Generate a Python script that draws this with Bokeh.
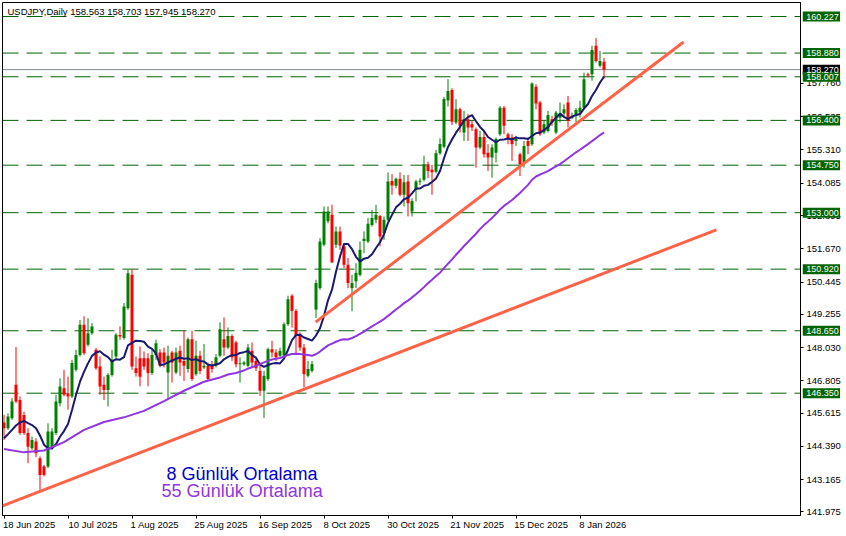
import numpy as np
import pandas as pd
from bokeh.plotting import figure
from bokeh.models import (Range1d, FixedTicker, Label, Span, ColumnDataSource,
                          NumeralTickFormatter, LinearAxis)
from bokeh.embed import file_html
from bokeh.resources import INLINE
from bokeh.core.properties import value

# ---------------- data ----------------
date_labels = ["18 Jun 2025", "10 Jul 2025", "1 Aug 2025", "25 Aug 2025", "16 Sep 2025",
               "8 Oct 2025", "30 Oct 2025", "21 Nov 2025", "15 Dec 2025", "8 Jan 2026"]
date_bars = [0, 16, 32, 48, 64, 80, 96, 112, 128, 144]

opens = [
    145.27, 145.06, 145.43, 146.66, 146.10, 145.55, 144.88, 144.32, 144.57, 143.95,
    143.65, 143.65, 144.32, 144.88, 145.98, 146.53, 146.35, 146.23, 147.21, 147.76,
    148.87, 148.13, 148.56, 147.95, 147.33, 146.66, 146.47, 147.02, 147.70, 148.49,
    148.38, 149.48, 150.71, 147.27, 147.64, 147.64, 147.64, 147.09, 147.76, 147.85,
    147.85, 147.11, 147.85, 147.11, 147.91, 147.54, 147.24, 148.34, 147.05, 147.73,
    147.30, 147.36, 147.36, 147.36, 147.73, 148.34, 148.03, 148.46, 148.22, 147.42,
    147.42, 147.36, 147.91, 147.54, 147.17, 146.44, 146.87, 147.97, 147.85, 147.73,
    147.73, 148.89, 149.94, 149.38, 148.52, 148.03, 146.99, 147.17, 149.43, 150.22,
    151.82, 152.68, 152.92, 151.82, 152.31, 151.76, 151.08, 150.22, 150.47, 150.71,
    151.96, 151.94, 152.55, 152.74, 152.88, 152.25, 152.74, 154.17, 153.99, 154.25,
    153.66, 154.15, 153.04, 153.84, 154.15, 154.21, 154.78, 154.58, 154.51, 155.19,
    155.43, 157.13, 157.52, 156.32, 156.81, 155.95, 156.44, 156.26, 156.07, 155.40,
    155.79, 155.21, 155.03, 155.21, 155.89, 156.87, 155.89, 155.77, 155.64, 155.15,
    154.85, 155.64, 155.52, 157.64, 157.06, 155.95, 156.01, 156.44, 155.95, 156.50,
    156.65, 157.06, 156.50, 156.57, 156.69, 156.87, 158.10, 158.10, 159.15, 158.41,
    158.563]

highs = [
    145.55, 145.61, 146.17, 148.05, 146.23, 145.67, 145.06, 144.75, 144.69, 144.02,
    143.71, 145.24, 145.06, 146.29, 146.90, 147.21, 146.96, 147.58, 147.95, 149.05,
    149.18, 149.11, 148.93, 148.01, 147.70, 146.96, 147.09, 147.95, 148.56, 148.81,
    149.67, 150.90, 150.92, 147.70, 148.07, 147.89, 147.82, 147.95, 148.32, 147.97,
    148.03, 148.10, 147.91, 148.03, 148.10, 148.65, 148.40, 148.65, 148.28, 147.91,
    148.16, 147.48, 147.54, 147.79, 148.96, 149.14, 148.77, 148.52, 148.28, 147.67,
    147.54, 148.16, 148.22, 147.60, 147.36, 147.17, 148.03, 148.28, 147.97, 148.03,
    148.96, 149.94, 150.00, 149.45, 148.59, 148.16, 147.54, 147.54, 150.53, 152.06,
    153.23, 153.23, 153.29, 152.49, 152.49, 151.88, 151.33, 150.71, 151.14, 151.94,
    152.31, 152.80, 153.10, 153.29, 152.92, 152.86, 154.48, 154.42, 154.29, 154.49,
    154.39, 154.39, 153.53, 154.21, 154.27, 155.10, 154.88, 154.76, 155.31, 155.74,
    157.27, 157.92, 157.58, 157.18, 156.87, 156.75, 156.63, 156.38, 156.14, 156.01,
    156.01, 155.52, 155.52, 155.77, 156.93, 156.93, 155.95, 155.89, 155.83, 155.21,
    155.64, 155.77, 157.80, 157.73, 157.12, 156.38, 156.75, 156.57, 156.75, 157.06,
    156.99, 157.30, 156.69, 156.85, 157.12, 158.16, 158.16, 159.15, 159.43, 158.96,
    158.703]

lows = [
    144.63, 145.00, 145.37, 145.98, 144.81, 144.81, 143.77, 144.26, 143.99, 142.79,
    143.28, 143.59, 144.26, 144.81, 145.86, 146.23, 145.74, 146.17, 147.15, 147.70,
    147.76, 148.07, 148.50, 147.21, 146.29, 146.10, 145.86, 146.96, 147.64, 148.32,
    148.32, 149.42, 147.21, 146.96, 146.60, 147.21, 146.60, 147.02, 147.58, 147.30,
    147.30, 146.13, 146.74, 147.05, 146.99, 146.80, 147.11, 146.80, 146.99, 147.05,
    147.24, 146.80, 147.11, 147.30, 147.67, 147.73, 147.97, 147.54, 147.30, 146.74,
    147.36, 147.30, 147.30, 147.17, 146.25, 145.44, 146.80, 147.67, 147.54, 147.67,
    147.67, 148.83, 148.77, 147.79, 147.91, 146.56, 146.93, 147.11, 149.12, 150.16,
    151.76, 152.61, 151.14, 151.70, 151.63, 150.96, 150.22, 149.37, 150.22, 150.65,
    151.51, 151.88, 152.49, 152.61, 151.76, 152.00, 152.68, 153.66, 153.90, 153.60,
    153.23, 152.86, 152.86, 153.41, 154.02, 154.15, 154.27, 153.66, 154.45, 155.13,
    155.37, 156.91, 156.23, 156.26, 155.95, 155.64, 155.64, 156.01, 154.66, 155.34,
    155.03, 154.54, 154.29, 154.85, 155.83, 155.89, 155.52, 154.91, 155.46, 154.35,
    154.66, 155.15, 155.46, 156.81, 155.83, 155.89, 155.95, 156.20, 155.89, 156.32,
    156.57, 156.14, 156.44, 156.32, 156.50, 156.81, 157.98, 157.86, 158.53, 158.35,
    157.945]

closes = [
    145.06, 145.49, 146.04, 146.04, 144.88, 144.88, 144.38, 144.63, 144.14, 143.34,
    143.34, 144.94, 144.94, 146.04, 146.60, 146.29, 146.23, 147.46, 147.76, 148.87,
    147.82, 148.56, 148.81, 147.27, 146.60, 146.47, 147.02, 147.58, 148.50, 148.44,
    149.54, 150.77, 147.33, 147.09, 146.96, 147.33, 147.09, 147.76, 148.19, 147.36,
    147.48, 147.73, 147.48, 147.85, 147.48, 147.36, 148.34, 146.87, 147.73, 147.17,
    147.36, 146.87, 147.24, 147.67, 148.71, 148.03, 148.46, 147.67, 147.42, 147.45,
    147.48, 148.03, 147.48, 147.27, 146.44, 146.99, 147.97, 147.85, 147.67, 147.91,
    148.89, 149.81, 149.38, 148.46, 148.03, 147.05, 147.24, 147.42, 150.41, 151.94,
    153.04, 153.04, 151.17, 152.31, 151.79, 151.08, 150.41, 150.41, 150.78, 151.63,
    152.04, 152.59, 152.80, 152.92, 152.12, 152.74, 154.15, 154.00, 154.25, 153.66,
    154.12, 153.35, 153.43, 154.15, 154.17, 154.78, 154.54, 154.49, 155.19, 155.53,
    157.19, 157.48, 156.35, 156.81, 156.20, 156.44, 156.14, 156.14, 155.40, 155.79,
    155.15, 155.03, 155.40, 155.71, 156.87, 156.20, 155.71, 155.52, 155.71, 154.78,
    155.46, 155.46, 157.76, 157.02, 155.89, 156.26, 156.60, 156.32, 156.69, 156.65,
    156.81, 156.38, 156.57, 156.78, 156.87, 157.92, 158.05, 158.99, 158.59, 158.59,
    158.270]

ma8_head = [144.69, 144.84, 145.00, 145.16, 145.27, 145.33, 145.25]
ma55_head_bars = [0, 5, 10, 15, 20, 25, 30, 35, 40, 45, 50]
ma55_head = [144.29, 144.17, 144.24, 144.55, 145.00, 145.29, 145.46, 145.70, 146.06, 146.44, 146.77]

levels = [160.227, 158.880, 158.007, 156.400, 154.750, 153.000, 150.920, 148.650, 146.350]
last_price = 158.270
price_ticks = [141.975, 143.165, 144.390, 145.615, 146.805, 148.030, 149.255, 150.445,
               151.670, 152.895, 154.085, 155.310, 156.535, 157.760]

trend_a_bars = [-0.375, 178.1]
trend_a_prices = [142.20, 152.37]
trend_b_bars = [77.9, 169.9]
trend_b_prices = [148.97, 159.29]

symbol = "USDJPY,Daily"
legend_8 = "8 Günlük Ortalama"
legend_55 = "55 Günlük Ortalama"

# ---------------- main figure ----------------
FONT = "Liberation Sans"
GREEN = "#008000"
RED = "#FF0000"
LEVEL = "#006400"

yr = Range1d(141.844, 160.743)
p = figure(width=846, height=536,
           x_range=Range1d(-0.375, 199.125), y_range=yr,
           output_backend="svg", toolbar_location=None, y_axis_location="right",
           min_border_left=2, min_border_top=2, min_border_right=46, min_border_bottom=21,
           background_fill_color="white", border_fill_color="white")
p.xgrid.visible = False
p.ygrid.visible = False
p.outline_line_color = "black"
p.outline_line_width = 1

# level lines
for lv in levels:
    p.add_layout(Span(location=lv, dimension="width", line_color=LEVEL, line_width=1,
                      line_dash="16 8", level="underlay"))
p.add_layout(Span(location=last_price, dimension="width", line_color="#808890",
                  line_width=1, level="underlay"))

# candles
o = np.array(opens); h = np.array(highs); l = np.array(lows); c = np.array(closes)
n = len(c)
idx = np.arange(n)
colors = np.where(c >= o, GREEN, RED)
top = np.maximum(o, c)
bot = np.minimum(o, c)
min_body = 0.035
mid = (top + bot) / 2
tiny = (top - bot) < min_body
top = np.where(tiny, mid + min_body / 2, top)
bot = np.where(tiny, mid - min_body / 2, bot)
src = ColumnDataSource(dict(x=idx, h=h, l=l, top=top, bot=bot, color=colors))
p.segment(x0="x", y0="l", x1="x", y1="h", line_color="color", line_width=1, source=src)
p.vbar(x="x", width=0.75, top="top", bottom="bot", fill_color="color", line_color=None, source=src)

# moving averages
cs = pd.Series(closes)
ma8_calc = cs.rolling(8).mean().to_numpy()
ma8 = np.concatenate([np.array(ma8_head), ma8_calc[len(ma8_head):]])
p.line(idx, ma8, line_color="#191970", line_width=2)

ma55_calc = cs.rolling(55).mean().to_numpy()
x55 = list(ma55_head_bars) + list(range(54, n))
y55 = list(ma55_head) + list(ma55_calc[54:])
p.line(x55, y55, line_color="#9035E0", line_width=2)

# trend lines
p.line(trend_a_bars, trend_a_prices, line_color="#FF6347", line_width=3)
p.line(trend_b_bars, trend_b_prices, line_color="#FF6347", line_width=3)

# bottom axis: ticks only
xa = p.xaxis[0]
xa.ticker = FixedTicker(ticks=date_bars)
xa.major_label_overrides = {b: "" for b in date_bars}
xa.major_tick_out = 3
xa.major_tick_in = 0
xa.minor_tick_out = 0
xa.minor_tick_in = 0
xa.major_label_standoff = 0
xa.major_label_text_font_size = "1px"
xa.axis_line_color = "black"
xa.major_tick_line_color = "black"

# second bottom axis: date texts, each starting at its tick
label_pos = [b + 0.57 * len(d) for b, d in zip(date_bars, date_labels)]
xa2 = LinearAxis(ticker=FixedTicker(ticks=label_pos),
                 major_label_overrides={pos: d for pos, d in zip(label_pos, date_labels)},
                 axis_line_color=None, major_tick_line_color=None, minor_tick_line_color=None,
                 major_tick_out=0, major_tick_in=0, minor_tick_out=0, minor_tick_in=0,
                 major_label_standoff=0, major_label_text_font=FONT,
                 major_label_text_font_size="9.5px", major_label_text_color="black")
p.add_layout(xa2, "below")

ya = p.yaxis[0]
ya.ticker = FixedTicker(ticks=price_ticks)
ya.formatter = NumeralTickFormatter(format="0.000")
ya.major_tick_out = 3
ya.major_tick_in = 0
ya.minor_tick_out = 0
ya.minor_tick_in = 0
ya.major_label_standoff = 3
ya.major_label_text_font = FONT
ya.major_label_text_font_size = "9.5px"
ya.major_label_text_color = "black"
ya.axis_line_color = "black"
ya.major_tick_line_color = "black"

# title
title_text = f"{symbol}  {opens[-1]:.3f} {highs[-1]:.3f} {lows[-1]:.3f} {closes[-1]:.3f}"
p.add_layout(Label(x=0.875, y=160.596, text=title_text, text_color="black",
                   text_font=FONT, text_font_size="9.5px", text_baseline="top", text_align="left"))

# legend texts
p.add_layout(Label(x=40.6, y=143.39, text=legend_8, text_color="#0000CD",
                   text_font=FONT, text_font_size="18px", text_baseline="alphabetic"))
p.add_layout(Label(x=39.4, y=142.75, text=legend_55, text_color="#9035E0",
                   text_font=FONT, text_font_size="18px", text_baseline="alphabetic"))

# ---------------- overlay strip with the price boxes on the right scale ----------------
q = figure(width=44, height=513, x_range=Range1d(0, 44), y_range=yr,
           output_backend="svg", toolbar_location=None,
           x_axis_location=None, y_axis_location=None,
           min_border_left=0, min_border_right=0, min_border_top=0, min_border_bottom=0,
           background_fill_alpha=0, border_fill_alpha=0, outline_line_color=None,
           margin=(-534, 0, 0, 802))
q.xgrid.visible = False
q.ygrid.visible = False

box_prices = [last_price] + levels
box_colors = ["black"] + [LEVEL] * len(levels)
box_src = ColumnDataSource(dict(y=box_prices, color=box_colors,
                                txt=[f"{v:.3f}" for v in box_prices]))
q.rect(x=18.8, y="y", width=37.5, height=10, height_units="screen",
       fill_color="color", line_color=None, source=box_src)
q.text(x=3.8, y="y", text="txt", text_color="white", text_font=value(FONT),
       text_font_size="9px", text_baseline="middle", text_align="left", source=box_src)

open("out.html", "w").write(file_html([p, q], INLINE))
